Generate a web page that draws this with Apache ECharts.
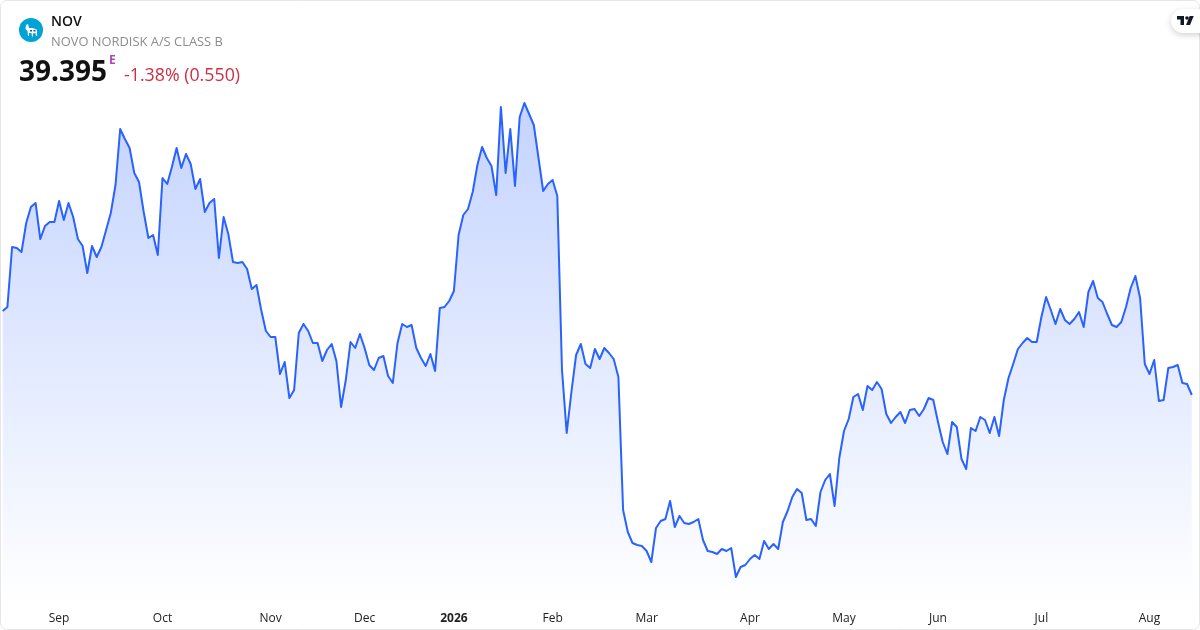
<!DOCTYPE html>
<html><head><meta charset="utf-8">
<style>html,body{margin:0;padding:0;background:#fff}#c{width:1200px;height:630px}</style>
<script src="https://cdn.jsdelivr.net/npm/echarts@6/dist/echarts.min.js"></script>
</head><body><div id="c"></div>
<script>
const prices = [
43.595,43.795,46.795,46.745,46.545,47.995,48.795,48.995,47.195,47.845,48.045,48.045,49.095,48.145,48.995,48.295,47.195,46.845,45.495,46.845,46.295,46.795,47.645,48.495,49.895,52.695,52.195,51.745,50.495,50.045,48.545,47.245,47.395,46.395,50.245,49.945,50.795,51.745,50.745,51.445,50.945,49.695,50.195,48.545,48.995,49.195,46.245,48.295,47.445,46.045,45.995,46.045,45.695,44.695,44.895,43.645,42.595,42.295,42.295,40.445,41.045,39.245,39.645,42.495,
42.945,42.595,41.995,41.995,41.095,41.645,41.945,41.095,38.795,40.145,42.045,41.745,42.445,41.745,40.895,40.645,41.245,41.345,40.345,39.995,41.995,42.945,42.795,42.895,41.745,41.245,40.845,41.445,40.595,43.745,43.795,44.095,44.595,47.395,48.395,48.695,49.545,50.895,51.795,51.245,50.845,49.395,53.795,50.495,52.695,49.845,53.295,53.995,53.445,52.895,51.245,49.595,49.945,50.145,49.345,
40.645,37.495,39.545,41.395,41.945,40.945,40.745,41.695,41.195,41.745,41.495,41.195,40.295,
33.645,32.545,31.995,31.895,31.845,31.595,31.045,32.745,33.095,33.195,34.095,32.795,33.345,32.995,32.945,33.045,33.195,32.145,31.595,31.545,31.445,31.695,31.595,31.745,30.295,30.795,30.895,31.195,31.395,31.195,32.095,31.695,31.945,31.695,33.045,33.595,34.295,34.695,34.495,33.145,33.195,32.845,34.545,35.145,35.445,33.845,36.245,37.595,38.195,39.295,39.445,38.645,39.845,
39.645,40.045,39.695,38.445,37.995,38.295,38.545,37.995,38.645,38.695,38.345,38.695,39.245,39.145,38.045,37.045,36.445,38.045,37.795,36.195,35.695,37.745,37.595,38.295,38.145,37.495,38.295,37.345,39.145,40.245,40.945,41.695,41.995,42.245,42.045,42.045,43.295,44.295,43.645,42.945,43.695,43.145,42.945,43.195,43.545,42.795,44.545,45.095,44.245,44.045,43.445,42.895,42.795,43.045,43.795,44.745,45.345,44.245,
40.945,40.445,41.145,39.095,39.145,40.745,40.795,40.895,39.995,39.945,39.395];
const tickIndex = [12,34,57,77,96,117,137,159,179,199,221,244];
const tickLabels = ['Sep','Oct','Nov','Dec','2026','Feb','Mar','Apr','May','Jun','Jul','Aug'];
const boldLabels = ['2026'];
const categories = prices.map((_, i) => { const k = tickIndex.indexOf(i); return k >= 0 ? tickLabels[k] : ''; });
const symbol = 'NOV', company = 'NOVO NORDISK A/S CLASS B', lastPrice = '39.395', change = '-1.38% (0.550)';
const FONT = '"Open Sans", "Noto Sans", sans-serif';

const chart = echarts.init(document.getElementById('c'), null, {renderer:'canvas'});
chart.setOption({
  animation:false,
  backgroundColor:'#fff',
  grid:{left:2.7,right:8.2,top:0,height:600},
  xAxis:{type:'category',data:categories,boundaryGap:false,
    axisLine:{show:false},axisTick:{show:false},splitLine:{show:false},
    axisLabel:{interval:(i)=>tickIndex.includes(i),margin:13,hideOverlap:false,
      fontFamily:FONT,fontSize:12,color:'#222',
      formatter:v=>boldLabels.includes(v)?`{b|${v}}`:v,
      rich:{b:{fontFamily:FONT,fontSize:12,fontWeight:'bold',color:'#222'}}}},
  yAxis:{type:'value',min:29.145,max:59.145,show:false,splitLine:{show:false}},
  series:[{type:'line',data:prices,symbol:'none',smooth:false,
    lineStyle:{color:'#2962ff',width:2,join:'round'},
    areaStyle:{origin:'start',opacity:1,color:{type:'linear',global:true,x:0,y:100,x2:0,y2:605,
      colorStops:[{offset:0,color:'rgba(41,98,255,0.28)'},{offset:1,color:'rgba(41,98,255,0)'}]}}}],
  graphic:[
    {type:'rect',shape:{x:0.5,y:0.5,width:1199,height:629,r:6},style:{fill:'none',stroke:'#e6e6e6',lineWidth:1},z:50},
    {type:'circle',shape:{cx:31,cy:30,r:12},style:{fill:'#00a3d6'},z:60},
    {type:'polygon',shape:{points:[[26,25],[28,24],[29,28],[33,28],[37,30],[37,36],[36,36],[35.5,33],[33,33.5],[33,36.5],[32,36.5],[31.5,33],[29,33],[29,36],[28,36],[27.5,31],[25.5,29]]},style:{fill:'#fff'},z:61},
    {type:'rect',shape:{x:30,y:30,width:2,height:1.5},style:{fill:'#1b4f9c'},z:62},
    {type:'rect',shape:{x:33.5,y:30,width:2,height:1.5},style:{fill:'#1b4f9c'},z:62},
    {type:'text',x:51,y:15,style:{text:symbol,fontFamily:FONT,fontSize:14,fontWeight:600,fill:'#111'},z:60},
    {type:'text',x:51,y:36,style:{text:company,fontFamily:FONT,fontSize:12.9,fill:'#8c8c8c'},z:60},
    {type:'text',x:19,y:59,style:{text:lastPrice,fontFamily:FONT,fontSize:28,fontWeight:700,fill:'#111'},z:60},
    {type:'text',x:109,y:55,style:{text:'E',fontFamily:FONT,fontSize:12,fontWeight:700,fill:'#ab47bc'},z:60},
    {type:'text',x:124,y:67,style:{text:change,fontFamily:FONT,fontSize:17.8,fill:'#cf2f42'},z:60},
    {type:'rect',shape:{x:1171,y:9,width:50,height:24,r:12},style:{fill:'#fff',shadowBlur:6,shadowColor:'rgba(0,0,0,0.18)',shadowOffsetY:2},z:62},
    {type:'polygon',shape:{points:[[1177,16],[1184,16],[1184,25],[1180.5,25],[1180.5,19.5],[1177,19.5]]},style:{fill:'#131722'},z:63},
    {type:'polygon',shape:{points:[[1189.7,16],[1193.7,16],[1190,25],[1186,25]]},style:{fill:'#131722'},z:63},
    {type:'circle',shape:{cx:1187,cy:18,r:1.8},style:{fill:'#131722'},z:63}
  ]
});
</script></body></html>
